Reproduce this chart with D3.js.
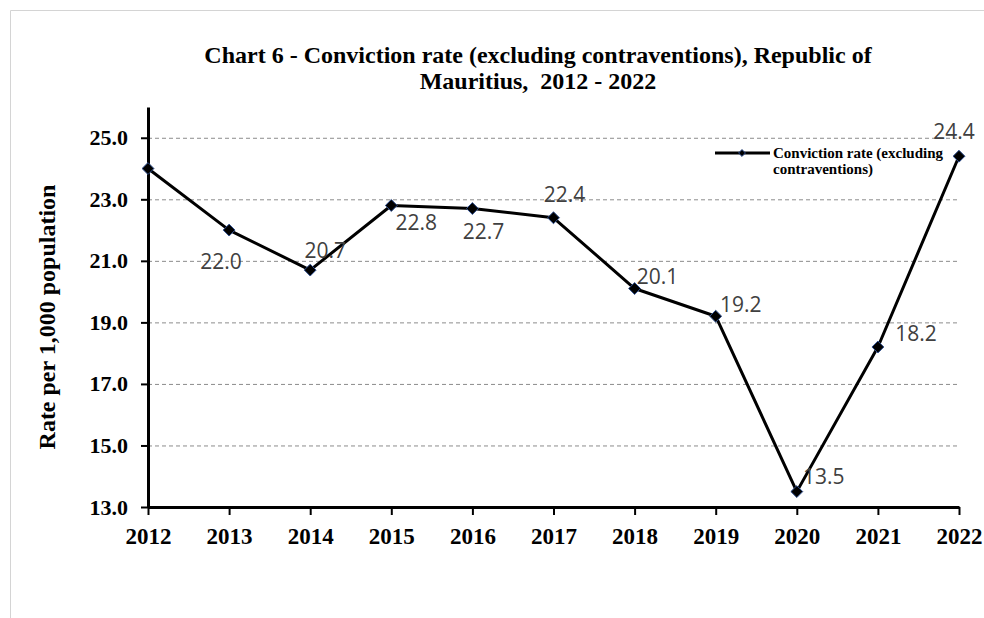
<!DOCTYPE html>
<html>
<head>
<meta charset="utf-8">
<script src="https://cdn.jsdelivr.net/npm/d3@7"></script>
<style>
  body { margin: 0; background: #fff; }
  svg text { font-family: "Liberation Serif", "Times New Roman", serif; }
</style>
</head>
<body>
<svg id="chart" width="984" height="618"></svg>
<script>
// Chart data
var years = [2012, 2013, 2014, 2015, 2016, 2017, 2018, 2019, 2020, 2021, 2022];
var rates = [24.0, 22.0, 20.7, 22.8, 22.7, 22.4, 20.1, 19.2, 13.5, 18.2, 24.4];
var showLabel = [false, true, true, true, true, true, true, true, true, true, true];
var yTicks = [13, 15, 17, 19, 21, 23, 25];
var titleLines = ["Chart 6 - Conviction rate (excluding contraventions), Republic of", "Mauritius,  2012 - 2022"];
var legendLines = ["Conviction rate (excluding", "contraventions)"];

// label placement relative to each point (layout only)
var labelShift = [[0, 0], [-8, 31], [15, -20], [25, 17], [11, 22], [11, -24], [23, -13], [25, -12], [27, -16], [38, -14], [-5, -25]];

var svg = d3.select('#chart');

// outer frame
svg.append('path')
  .attr('d', 'M10.5,618 V10.5 H984')
  .attr('fill', 'none')
  .attr('stroke', '#d4d4d4');

var x = d3.scaleLinear().domain([2012, 2022]).range([148, 959]);
var y = d3.scaleLinear().domain([13, 26]).range([507, 107]);

// gridlines
svg.append('g')
  .selectAll('line')
  .data(yTicks.filter(function (d) { return d > 13; }))
  .enter()
  .append('line')
  .attr('x1', x(2012))
  .attr('x2', x(2022))
  .attr('y1', function (d) { return y(d) + 0.5; })
  .attr('y2', function (d) { return y(d) + 0.5; })
  .attr('stroke', '#8c8c8c')
  .attr('stroke-dasharray', '4,3');

// y axis
var yAxis = svg.append('g')
  .attr('transform', 'translate(' + x(2012) + ',0)')
  .call(d3.axisLeft(y).tickValues(yTicks).tickSize(7).tickSizeOuter(0).tickPadding(13).tickFormat(d3.format('.1f')));
yAxis.select('.domain').attr('stroke', '#000').attr('stroke-width', 3);
yAxis.selectAll('.tick line').attr('stroke', '#000').attr('stroke-width', 2);
yAxis.selectAll('.tick text')
  .attr('fill', '#000')
  .style('font-size', '22px')
  .style('font-weight', 'bold')
  .style('font-family', '"Liberation Serif", serif');

// x axis
var xAxis = svg.append('g')
  .attr('transform', 'translate(0,' + y(13) + ')')
  .call(d3.axisBottom(x).tickValues(years).tickSize(8).tickSizeOuter(0).tickPadding(13).tickFormat(d3.format('d')));
xAxis.select('.domain').attr('stroke', '#000').attr('stroke-width', 3);
xAxis.selectAll('.tick line').attr('stroke', '#000').attr('stroke-width', 2);
xAxis.selectAll('.tick text')
  .attr('fill', '#000')
  .style('font-size', '23px')
  .style('font-weight', 'bold')
  .style('font-family', '"Liberation Serif", serif');

// series line
var line = d3.line()
  .x(function (d, i) { return x(years[i]); })
  .y(function (d) { return y(d); });

svg.append('path')
  .datum(rates)
  .attr('d', line)
  .attr('fill', 'none')
  .attr('stroke', '#000')
  .attr('stroke-width', 3)
  .attr('stroke-linejoin', 'round');

// markers
var diamond = d3.symbol().type(d3.symbolDiamond2).size(90);
svg.append('g')
  .selectAll('path')
  .data(rates)
  .enter()
  .append('path')
  .attr('d', diamond)
  .attr('transform', function (d, i) { return 'translate(' + x(years[i]) + ',' + y(d) + ')'; })
  .attr('fill', '#000')
  .attr('stroke', '#2f4f8f')
  .attr('stroke-width', 1);

// data labels
svg.append('g')
  .selectAll('text')
  .data(rates)
  .enter()
  .filter(function (d, i) { return showLabel[i]; })
  .append('text')
  .attr('x', function (d) { var i = rates.indexOf(d); return x(years[i]) + labelShift[i][0]; })
  .attr('y', function (d) { var i = rates.indexOf(d); return y(d) + labelShift[i][1]; })
  .attr('text-anchor', 'middle')
  .attr('dominant-baseline', 'central')
  .style('font-family', '"Open Sans", "Liberation Sans", sans-serif')
  .style('font-size', '21px')
  .attr('fill', '#404040')
  .text(function (d) { return d3.format('.1f')(d); });

// title
svg.append('g')
  .selectAll('text')
  .data(titleLines)
  .enter()
  .append('text')
  .attr('x', 538)
  .attr('y', function (d, i) { return 63 + i * 26; })
  .attr('text-anchor', 'middle')
  .style('font-size', '24px')
  .style('font-weight', 'bold')
  .style('white-space', 'pre')
  .text(function (d) { return d; });

// y axis title
svg.append('text')
  .attr('transform', 'translate(55,317) rotate(-90)')
  .attr('text-anchor', 'middle')
  .style('font-size', '24px')
  .style('font-weight', 'bold')
  .text('Rate per 1,000 population');

// legend
var lg = svg.append('g').attr('transform', 'translate(715,153)');
lg.append('line').attr('x1', 0).attr('x2', 55).attr('y1', 0).attr('y2', 0)
  .attr('stroke', '#000').attr('stroke-width', 3);
lg.append('path').attr('d', d3.symbol().type(d3.symbolDiamond2).size(30))
  .attr('transform', 'translate(27,0)')
  .attr('fill', '#000').attr('stroke', '#2f4f8f');
lg.selectAll('text')
  .data(legendLines)
  .enter()
  .append('text')
  .attr('x', 58)
  .attr('y', function (d, i) { return 5 + i * 16; })
  .style('font-size', '15px')
  .style('font-weight', 'bold')
  .text(function (d) { return d; });
</script>
</body>
</html>
